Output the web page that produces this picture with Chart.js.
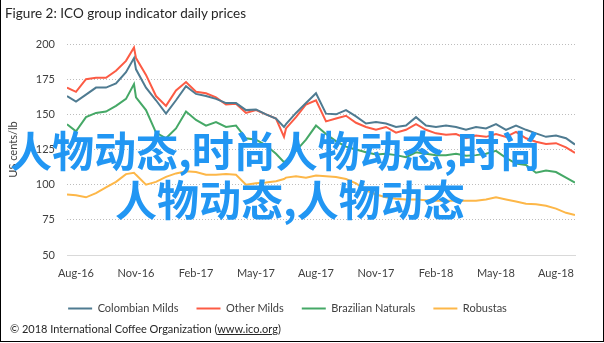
<!DOCTYPE html>
<html>
<head>
<meta charset="utf-8">
<script src="https://cdn.jsdelivr.net/npm/chart.js@4"></script>
<style>
  html, body { margin: 0; padding: 0; background: #fff; }
  #wrap { position: relative; width: 604px; height: 343px; overflow: hidden; }
  #frame { position: absolute; left: 0; top: -2px; width: 602px; height: 342px; border: 1px solid #000; pointer-events: none; }
  #title { position: absolute; left: 5px; top: 5px; font: 13.5px Lato, sans-serif; color: #262626; white-space: nowrap; }
  #foot { position: absolute; left: 10px; top: 322px; font: 11px Lato, sans-serif; color: #262626; white-space: nowrap; }
  #foot u { text-decoration: underline; }
  .wm { position: absolute; font: bold 42px "Noto Sans CJK SC", sans-serif; line-height: 42px; color: #2196F3; white-space: nowrap; }
</style>
</head>
<body>
<div id="wrap">
  <canvas id="chart" width="604" height="343"></canvas>
  <div id="title">Figure 2: ICO group indicator daily prices</div>
  <div class="wm" style="left:10px; top:128px;">人物动态,时尚人物动态,时尚</div>
  <div class="wm" style="left:115px; top:177px;">人物动态,人物动态</div>
  <div id="foot">© 2018 International Coffee Organization (<u>www.ico.org</u>)</div>
  <div id="frame"></div>
</div>
<script>
/** datos: meses desde Aug-16 */
let xMonths = [-0.45, 0, 0.5, 1, 1.5, 2, 2.5, 2.9, 3,
  3.5, 4, 4.5, 5, 5.5, 6, 6.5, 7, 7.5, 8, 8.5, 9, 9.5, 10, 10.4, 10.5, 11, 11.5, 12,
  12.5, 13, 13.5, 14, 14.5, 15, 15.5, 16, 16.5, 17, 17.5, 18, 18.5, 19, 19.5, 20,
  20.5, 21, 21.5, 22, 22.5, 23, 23.5, 24, 24.5, 24.95]

let tickLabels = ["Aug-16", "Nov-16", "Feb-17", "May-17", "Aug-17", "Nov-17", "Feb-18", "May-18", "Aug-18"]
let yTicks = [50, 75, 100, 125, 150, 175, 200]

let colombian = [163, 159, 164, 169, 169, 172, 180, 190, 182,
  169, 160, 150.5, 160, 170, 164.5, 163, 161, 158, 158,
  153, 153.5, 150, 147, 141, 143, 151, 158, 165, 150.5, 150,
  153, 148.5, 143.5, 144.5, 143.5, 141, 142, 148, 142, 141,
  142, 141, 139, 141, 140, 143, 139, 142, 139, 136.5,
  134, 135, 133, 128.5]

let otherMilds = [169, 166, 175, 176, 176, 181, 188, 197.5, 190,
  178, 163, 156, 167, 173, 166, 165, 162, 157, 157.5,
  151, 153, 150, 147, 134, 140, 148, 157, 160, 145, 147,
  149, 144, 141, 139, 141, 137, 139, 143, 139, 136.5,
  135.5, 136, 133, 135, 134, 136, 134, 137.5, 133, 130.5,
  129, 129.5, 126.5, 122.5]

let brazilian = [143, 138, 148, 151, 152, 156, 161, 171.5, 162,
  153, 137, 133, 140, 152, 146, 142, 144.5, 141, 142,
  133, 132, 128, 122, 116, 117, 124, 132, 142, 136, 131,
  127, 125, 123, 121.5, 122, 121, 119.5, 123, 122, 121,
  121, 122, 120.5, 121, 122, 124, 119, 115, 114, 108.5,
  110, 109, 105, 101.5]

let robustas = [93, 92.5, 91, 94, 98, 102, 107.5, 108.5, 107,
  100, 102, 105.5, 108, 109.5, 109, 107, 107, 107.5, 107,
  100, 101, 101.5, 102.5, 104, 105, 106, 105, 106.5, 106, 105.5,
  104, 101, 96, 93, 91, 90, 89.5, 89.5, 89, 88.5,
  88.5, 88.5, 88.5, 88.5, 89.5, 91, 89.5, 88, 86.5, 86,
  85, 83, 80, 78.5]

function puntos(serie) {
  return xMonths.map((m, i) => ({x: m, y: serie[i]}))
}

function serie(label, data, color) {
  return {
    label: label,
    data: puntos(data),
    borderColor: color,
    backgroundColor: color,
    borderWidth: 2,
    pointRadius: 0,
    tension: 0
  }
}

var font11 = {family: "Lato", size: 11}

var ctx = document.getElementById("chart").getContext('2d');
var chart = new Chart(ctx, {
  type: 'line',
  data: {
    datasets: [
      serie('Colombian Milds', colombian, '#4f7b91'),
      serie('Other Milds', otherMilds, '#fc5b44'),
      serie('Brazilian Naturals', brazilian, '#45a866'),
      serie('Robustas', robustas, '#fdb748')
    ]
  },
  options: {
    responsive: false,
    animation: false,
    layout: {padding: {top: 44, left: 0, right: 29, bottom: 19}},
    plugins: {
      legend: {
        position: 'bottom',
        labels: {
          boxWidth: 24,
          boxHeight: 2,
          padding: 18,
          color: '#404040',
          font: font11,
          generateLabels: function(c) {
            return Chart.defaults.plugins.legend.labels.generateLabels(c).map(l => Object.assign(l, {lineWidth: 0}))
          }
        }
      },
      tooltip: {enabled: false}
    },
    scales: {
      x: {
        type: 'linear',
        min: -0.45,
        max: 24.95,
        afterBuildTicks: function(scale) {
          scale.ticks = tickLabels.map((t, i) => ({value: i * 3}))
        },
        afterFit: function(scale) { scale.height = 30 },
        ticks: {
          padding: 12,
          color: '#404040',
          font: font11,
          maxRotation: 0,
          autoSkip: false,
          callback: function(v) { return tickLabels[Math.round(v / 3)] }
        },
        grid: {display: false, drawTicks: false},
        border: {display: true, color: '#d9d9d9', width: 1}
      },
      y: {
        min: 50,
        max: 200,
        afterBuildTicks: function(scale) {
          scale.ticks = yTicks.map(v => ({value: v}))
        },
        afterFit: function(scale) { scale.width = 67 },
        ticks: {padding: 12, color: '#404040', font: font11},
        grid: {
          drawTicks: false,
          color: function(c) { return c.tick && c.tick.value === 50 ? 'rgba(0,0,0,0)' : '#bdbdbd' }
        },
        border: {display: false, dash: [1, 2]},
        title: {
          display: true,
          text: 'US cents/lb',
          color: '#404040',
          font: font11,
          padding: {top: 7, bottom: 0}
        }
      }
    }
  }
});
</script>
</body>
</html>
